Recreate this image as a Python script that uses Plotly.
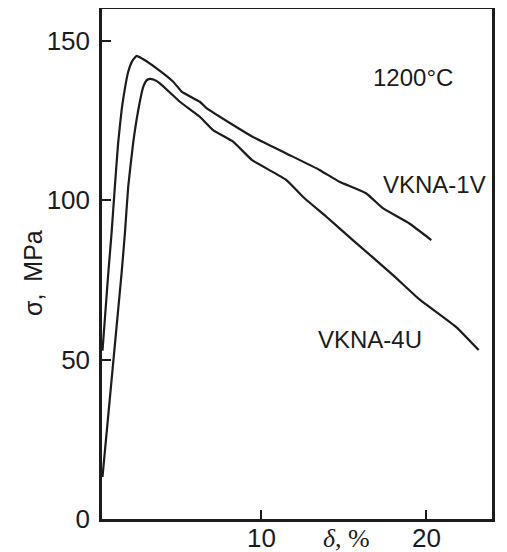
import plotly.graph_objects as go

# VKNA-1V (upper curve): elongation δ (%) vs stress σ (MPa)
v1_x = [0.38, 0.73, 0.93, 1.13, 1.33, 1.54, 1.74, 1.94, 2.20, 2.45, 2.80, 3.66, 4.67, 5.18, 6.28, 6.69,
        8.30, 9.45, 11.52, 13.54, 14.75, 16.36, 17.38, 18.99, 20.32]
v1_y = [52.8, 77.1, 89.7, 104.3, 118.0, 128.3, 135.1, 140.3, 143.8, 145.3, 144.4, 141.4, 137.2, 134.1, 130.9, 128.9,
        123.6, 120.0, 114.7, 109.5, 105.8, 102.2, 97.5, 92.7, 87.5]

# VKNA-4U (lower curve)
v4_x = [0.38, 1.54, 1.74, 1.94, 2.24, 2.55, 2.85, 3.05, 3.25, 3.50, 3.86, 5.07, 6.28, 7.09, 8.30, 9.45,
        11.52, 12.53, 13.94, 15.56, 17.98, 19.60, 21.83, 23.19]
v4_y = [13.2, 77.2, 89.7, 104.3, 118.0, 128.3, 135.6, 137.6, 138.1, 137.8, 136.7, 130.9, 126.2, 122.0, 118.4, 112.6,
        106.4, 101.1, 94.9, 87.5, 76.6, 68.9, 60.2, 53.0]

x_ticks = [10, 20]
x_tick_labels = ["10", "20"]
y_ticks = [0, 50, 100, 150]

ink = "#1c1c1c"
font_family = "Liberation Sans, Arial, sans-serif"

fig = go.Figure()
fig.add_trace(go.Scatter(x=v1_x, y=v1_y, mode="lines", line=dict(color=ink, width=2.2, shape="spline", smoothing=0.4),
                         name="VKNA-1V", showlegend=False))
fig.add_trace(go.Scatter(x=v4_x, y=v4_y, mode="lines", line=dict(color=ink, width=2.2, shape="spline", smoothing=0.4),
                         name="VKNA-4U", showlegend=False))

# page body has an 8px default margin; figure is sized/positioned to compensate
OFF = 8
W, H = 499, 544
L, R, T, B = 102 - OFF, W - (492 - OFF), 9 - OFF, H - (519 - OFF)
plot_w = W - L - R
plot_h = H - T - B

label_y = (H - B - (538.0 - OFF)) / plot_h  # paper y of x-tick-label row

annotations = [
    dict(text="1200°C", x=19.2, y=138.5, xref="x", yref="y", showarrow=False,
         font=dict(size=24, color=ink)),
    dict(text="VKNA-1V", x=20.5, y=105.0, xref="x", yref="y", showarrow=False,
         font=dict(size=24, color=ink)),
    dict(text="VKNA-4U", x=16.6, y=56.4, xref="x", yref="y", showarrow=False,
         font=dict(size=24, color=ink)),
    dict(text="σ,\u2009 MPa", x=(33 - OFF - L) / plot_w, y=(H - B - (273 - OFF)) / plot_h,
         xref="paper", yref="paper", xanchor="center", yanchor="middle",
         showarrow=False, textangle=-90, font=dict(size=25, color=ink)),
    dict(text="<i>δ</i>, %", x=15.17, y=label_y, xref="x", yref="paper",
         showarrow=False, yanchor="middle",
         font=dict(size=26, color=ink, family="Liberation Serif, Times New Roman, serif")),
]
for xv, lab in zip(x_ticks, x_tick_labels):
    annotations.append(dict(text=lab, x=xv, y=label_y, xref="x", yref="paper", showarrow=False,
                            xanchor="center", yanchor="middle", font=dict(size=26, color=ink)))

fig.update_layout(
    width=W, height=H,
    margin=dict(l=L, r=R, t=T, b=B),
    paper_bgcolor="white", plot_bgcolor="white",
    font=dict(family=font_family, size=26, color=ink),
    xaxis=dict(range=[0.35, 24.0], tickvals=x_ticks, showticklabels=False, ticks="inside", ticklen=9,
               tickwidth=2, tickcolor=ink, showline=True, linewidth=2.5, linecolor=ink, mirror=True,
               showgrid=False, zeroline=False, automargin=False),
    yaxis=dict(range=[0, 160], tickvals=y_ticks, ticks="inside", ticklen=9, tickwidth=2,
               tickcolor=ink, showline=True, linewidth=2.5, linecolor=ink, mirror=True,
               showgrid=False, zeroline=False, tickfont=dict(size=26), ticklabelstandoff=4,
               automargin=False),
    annotations=annotations,
)

fig.write_html("out.html")
